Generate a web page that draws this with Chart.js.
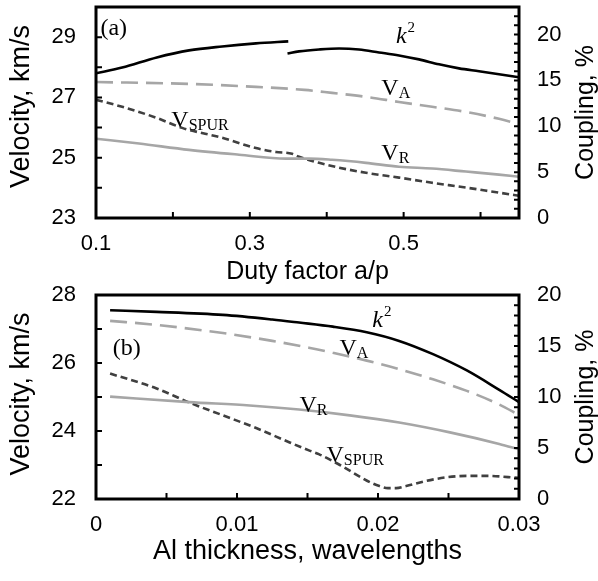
<!DOCTYPE html>
<html><head><meta charset="utf-8">
<script src="https://cdn.jsdelivr.net/npm/chart.js@4/dist/chart.umd.min.js"></script>
<style>
html,body{margin:0;padding:0;background:#fff;width:598px;height:581px;overflow:hidden}
#wa{position:absolute;left:0;top:0;width:598px;height:286px}
#wb{position:absolute;left:0;top:286px;width:598px;height:295px}
</style></head><body>
<div id="wa"><canvas id="ca" width="598" height="286"></canvas></div>
<div id="wb"><canvas id="cb" width="598" height="295"></canvas></div>
<script>
// ---------- Panel (a): vs duty factor a/p ----------
const aK2Seg1X = [0.100, 0.134, 0.179, 0.221, 0.264, 0.308, 0.350];
const aK2Seg1Y = [15.77, 16.40, 17.50, 18.27, 18.70, 19.03, 19.25];
const aK2Seg2X = [0.349, 0.364, 0.390, 0.416, 0.442, 0.468, 0.494, 0.520, 0.546, 0.572, 0.598, 0.624, 0.650];
const aK2Seg2Y = [17.94, 18.16, 18.37, 18.48, 18.37, 18.05, 17.72, 17.29, 16.75, 16.31, 15.99, 15.66, 15.34];
const aVAX = [0.100, 0.221, 0.308, 0.371, 0.407, 0.451, 0.494, 0.537, 0.581, 0.624, 0.650];
const aVAY = [27.51, 27.45, 27.35, 27.25, 27.15, 27.02, 26.85, 26.69, 26.52, 26.29, 26.12];
const aVSX = [0.100, 0.134, 0.179, 0.212, 0.264, 0.308, 0.334, 0.355, 0.364, 0.390, 0.416, 0.451, 0.494, 0.537, 0.581, 0.624, 0.650];
const aVSY = [26.92, 26.69, 26.32, 25.99, 25.66, 25.32, 25.19, 25.13, 25.03, 24.83, 24.67, 24.50, 24.34, 24.17, 24.01, 23.84, 23.74];
const aVRX = [0.100, 0.156, 0.221, 0.286, 0.347, 0.377, 0.407, 0.451, 0.494, 0.537, 0.581, 0.624, 0.650];
const aVRY = [25.63, 25.47, 25.26, 25.10, 24.97, 24.97, 24.93, 24.83, 24.70, 24.64, 24.54, 24.44, 24.37];
const aXLabels = [0.1, 0.3, 0.5];
const aYLabels = [23, 25, 27, 29];
const aY1Labels = [0, 5, 10, 15, 20];

// ---------- Panel (b): vs Al thickness ----------
const bK2X = [0.001, 0.0043, 0.009, 0.0125, 0.0144, 0.0168, 0.0192, 0.0215, 0.0239, 0.0263, 0.0286, 0.030];
const bK2Y = [18.50, 18.35, 18.05, 17.60, 17.30, 16.90, 16.35, 15.50, 14.20, 12.60, 10.70, 9.50];
const bVAX = [0.001, 0.0043, 0.009, 0.0125, 0.0151, 0.0168, 0.0192, 0.0215, 0.0239, 0.0263, 0.0286, 0.030];
const bVAY = [27.24, 27.12, 26.88, 26.65, 26.45, 26.30, 26.07, 25.82, 25.52, 25.18, 24.78, 24.47];
const bVRX = [0.001, 0.0066, 0.0109, 0.0144, 0.018, 0.0215, 0.0251, 0.0286, 0.030];
const bVRY = [25.01, 24.85, 24.75, 24.63, 24.46, 24.25, 23.96, 23.62, 23.46];
const bVSX = [0.001, 0.0043, 0.0066, 0.009, 0.0114, 0.0137, 0.0151, 0.0158, 0.0173, 0.0187, 0.0195, 0.0201, 0.0207, 0.0213, 0.022, 0.0234, 0.0249, 0.0263, 0.0277, 0.030];
const bVSY = [25.69, 25.25, 24.84, 24.46, 24.08, 23.67, 23.43, 23.32, 23.00, 22.66, 22.48, 22.38, 22.32, 22.32, 22.38, 22.53, 22.64, 22.68, 22.68, 22.62];
const bXLabels = [0, 0.01, 0.02, 0.03];
const bYLabels = [22, 24, 26, 28];
const bY1Labels = [0, 5, 10, 15, 20];

// ---------- annotations (data coordinates) ----------
const aNotes = [
  {text:'(a)', x:0.1058, y:29.07},
  {text:'k', sup:'2', italic:true, x:0.490, y:28.79},
  {text:'V', sub:'A', x:0.471, y:27.07},
  {text:'V', sub:'SPUR', x:0.198, y:26.02},
  {text:'V', sub:'R', x:0.471, y:24.93}
];
const bNotes = [
  {text:'(b)', x:0.00118, y:26.24},
  {text:'k', sup:'2', italic:true, x:0.0196, y:27.06},
  {text:'V', sub:'A', x:0.01727, y:26.24},
  {text:'V', sub:'R', x:0.01443, y:24.56},
  {text:'V', sub:'SPUR', x:0.01635, y:23.09}
];

const SANS = '"Liberation Sans", Arial, sans-serif';
const SERIF = '"Liberation Serif", "Times New Roman", serif';
Chart.defaults.font.family = SANS;
Chart.defaults.color = '#000';

const pts = (xs, ys) => xs.map((x, i) => ({x, y: ys[i]}));
const steps = (min, max, st) => { const r = []; for (let k = 0; min + k*st <= max + 1e-9; k++) r.push({value: +(min + k*st).toFixed(6)}); return r; };
const lbl = (list) => (v) => { const f = list.find(l => Math.abs(l - v) < 1e-9); return f === undefined ? '' : String(f); };

function ds(label, data, axis, color, width, dash) {
  return {label, data, yAxisID: axis, borderColor: color, borderWidth: width, borderDash: dash,
    pointRadius: 0, fill: false, tension: 0.35, cubicInterpolationMode: 'monotone'};
}

const framePlugin = {
  id: 'frame',
  afterDatasetsDraw(chart, args, opts) {
    const ctx = chart.ctx, a = chart.chartArea;
    ctx.save();
    ctx.strokeStyle = '#000';
    ctx.lineWidth = 2;
    const L = 6;
    const xs = chart.scales.x, y = chart.scales.y, y1 = chart.scales.y1;
    ctx.beginPath();
    xs.ticks.forEach(t => { const p = xs.getPixelForValue(t.value); ctx.moveTo(p, a.bottom); ctx.lineTo(p, a.bottom - L); });
    y.ticks.forEach(t => { const p = y.getPixelForValue(t.value); ctx.moveTo(a.left, p); ctx.lineTo(a.left + L, p); });
    y1.ticks.forEach(t => { const p = y1.getPixelForValue(t.value); ctx.moveTo(a.right, p); ctx.lineTo(a.right - 5, p); });
    ctx.stroke();
    ctx.lineWidth = 3;
    ctx.strokeRect(a.left, a.top, a.right - a.left, a.bottom - a.top);
    ctx.fillStyle = '#000';
    ctx.textAlign = 'center'; ctx.textBaseline = 'middle';
    ctx.save();
    ctx.font = opts.rightSize + 'px ' + SANS;
    ctx.translate(586, (a.top + a.bottom) / 2);
    ctx.rotate(-Math.PI / 2);
    ctx.fillText(opts.rightTitle, 0, 0);
    ctx.restore();
    ctx.save();
    ctx.font = opts.leftSize + 'px ' + SANS;
    ctx.translate(22, (a.top + a.bottom) / 2 + opts.leftDy);
    ctx.rotate(-Math.PI / 2);
    ctx.fillText(opts.leftTitle, 0, 0);
    ctx.restore();
    ctx.restore();
    ctx.save();
    ctx.fillStyle = '#000';
    ctx.textAlign = 'left'; ctx.textBaseline = 'alphabetic';
    opts.notes.forEach(n => {
      const px = xs.getPixelForValue(n.x), py = y.getPixelForValue(n.y);
      ctx.font = (n.italic ? 'italic ' : '') + '24px ' + SERIF;
      ctx.fillText(n.text, px, py);
      const w = ctx.measureText(n.text).width;
      if (n.sub) { ctx.font = '16px ' + SERIF; ctx.fillText(n.sub, px + w, py + 3); }
      if (n.sup) { ctx.font = '15px ' + SERIF; ctx.fillText(n.sup, px + w + 1, py - 11); }
    });
    ctx.restore();
  }
};

function makeChart(id, cfg) {
  return new Chart(document.getElementById(id), {
    type: 'line',
    data: {datasets: cfg.datasets},
    plugins: [framePlugin],
    options: {
      responsive: false, animation: false, devicePixelRatio: 1,
      layout: {padding: {top: cfg.padTop, right: 0, bottom: 0, left: 0}},
      plugins: {legend: {display: false}, tooltip: {enabled: false},
        frame: {notes: cfg.notes, rightTitle: 'Coupling, %', rightSize: 25,
                leftTitle: 'Velocity, km/s', leftSize: cfg.leftSize, leftDy: cfg.leftDy}},
      scales: {
        x: {type: 'linear', min: cfg.xMin, max: cfg.xMax,
          grid: {display: false, drawTicks: false}, border: {display: false},
          ticks: {autoSkip: false, maxRotation: 0, padding: cfg.xTickPad, font: {size: 22}, callback: lbl(cfg.xLabels)},
          title: {display: true, text: cfg.xTitle, font: {size: cfg.xTitleSize, lineHeight: 1}, padding: {top: 0, bottom: cfg.xTitlePad}},
          afterBuildTicks: s => { s.ticks = steps(cfg.xMin, cfg.xMax, cfg.xStep); },
          afterFit: s => { s.height = cfg.xHeight; s.paddingLeft = 0; s.paddingRight = 0; }
        },
        y: {type: 'linear', position: 'left', min: cfg.yMin, max: cfg.yMax,
          grid: {display: false, drawTicks: false}, border: {display: false},
          ticks: {autoSkip: false, padding: 20, font: {size: 22}, callback: lbl(cfg.yLabels)},
          afterBuildTicks: s => { s.ticks = steps(cfg.yMin, cfg.yMax, 1); },
          afterFit: s => { s.width = 96; s.paddingTop = 0; s.paddingBottom = 0; }
        },
        y1: {type: 'linear', position: 'right', min: 0, max: cfg.y1Max,
          grid: {display: false, drawTicks: false}, border: {display: false},
          ticks: {autoSkip: false, padding: 18, font: {size: 22}, callback: lbl(cfg.y1Labels)},
          afterBuildTicks: s => { s.ticks = steps(0, cfg.y1Max, 1); },
          afterFit: s => { s.width = 79; s.paddingTop = 0; s.paddingBottom = 0; }
        }
      }
    }
  });
}

const GRAY = '#a6a6a6', DARK = '#404040';

makeChart('ca', {
  datasets: [
    ds('k2', pts(aK2Seg1X, aK2Seg1Y), 'y1', '#000', 2.6, []),
    ds('k2 ', pts(aK2Seg2X, aK2Seg2Y), 'y1', '#000', 2.6, []),
    ds('VA', pts(aVAX, aVAY), 'y', GRAY, 2.6, [17, 8]),
    ds('VR', pts(aVRX, aVRY), 'y', GRAY, 2.6, []),
    ds('VSPUR', pts(aVSX, aVSY), 'y', DARK, 2.6, [7, 4])
  ],
  notes: aNotes, padTop: 7, leftSize: 27, leftDy: -6,
  xMin: 0.1, xMax: 0.65, xStep: 0.1, xLabels: aXLabels, xTitle: 'Duty factor a/p', xTitleSize: 25,
  xHeight: 68, xTickPad: 13, xTitlePad: 1.5,
  yMin: 23, yMax: 30, yLabels: aYLabels, y1Max: 23, y1Labels: aY1Labels
});

makeChart('cb', {
  datasets: [
    ds('k2', pts(bK2X, bK2Y), 'y1', '#000', 2.6, []),
    ds('VA', pts(bVAX, bVAY), 'y', GRAY, 2.6, [17, 8]),
    ds('VR', pts(bVRX, bVRY), 'y', GRAY, 2.6, []),
    ds('VSPUR', pts(bVSX, bVSY), 'y', DARK, 2.6, [7, 4])
  ],
  notes: bNotes, padTop: 9, leftSize: 27, leftDy: -3,
  xMin: 0, xMax: 0.03, xStep: 0.005, xLabels: bXLabels, xTitle: 'Al thickness, wavelengths', xTitleSize: 27,
  xHeight: 82, xTickPad: 13, xTitlePad: 16,
  yMin: 22, yMax: 28, yLabels: bYLabels, y1Max: 20, y1Labels: bY1Labels
});
</script>
</body></html>
